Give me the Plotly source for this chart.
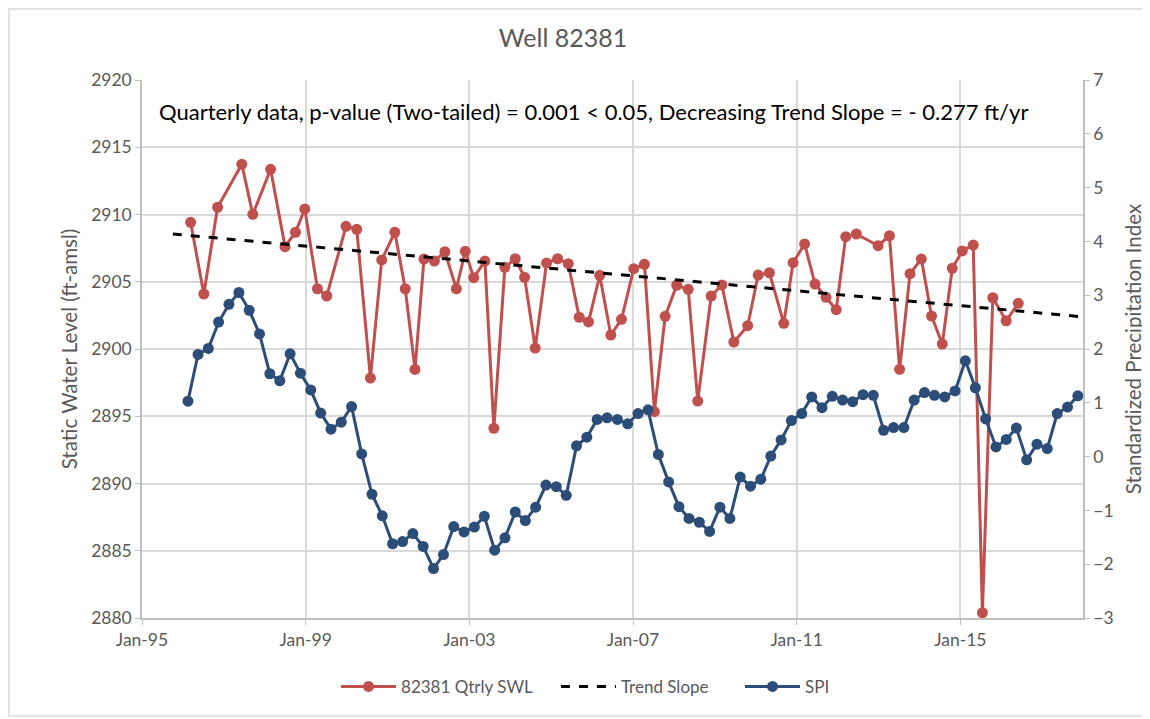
import pandas as pd
import plotly.graph_objects as go

# ---- data ----
swl_dates = [
    "1996-03-10", "1996-07-06", "1996-11-06", "1997-06-10", "1997-09-16", "1998-02-22",
    "1998-07-01", "1998-10-02", "1998-12-24", "1999-04-16", "1999-07-08", "1999-12-27",
    "2000-04-01", "2000-08-01", "2000-11-10", "2001-03-07", "2001-06-08", "2001-09-03",
    "2001-11-22", "2002-02-23", "2002-05-28", "2002-09-07", "2002-11-26", "2003-02-09",
    "2003-05-20", "2003-08-08", "2003-11-14", "2004-02-15", "2004-05-08", "2004-08-11",
    "2004-11-20", "2005-02-27", "2005-06-02", "2005-09-08", "2005-11-30", "2006-03-10",
    "2006-06-17", "2006-09-20", "2007-01-08", "2007-04-13", "2007-07-11", "2007-10-15",
    "2008-01-26", "2008-05-08", "2008-08-01", "2008-11-29", "2009-03-04", "2009-06-19",
    "2009-10-21", "2010-01-22", "2010-05-03", "2010-09-08", "2010-11-30", "2011-03-13",
    "2011-06-14", "2011-09-20", "2011-12-20", "2012-03-14", "2012-06-17", "2012-12-28",
    "2013-04-08", "2013-07-08", "2013-10-09", "2014-01-18", "2014-04-19", "2014-07-24",
    "2014-10-21", "2015-01-18", "2015-04-26", "2015-07-17", "2015-10-18", "2016-02-14",
    "2016-06-01",
]
swl_values = [
    2909.42, 2904.09, 2910.54, 2913.73, 2910.01, 2913.36, 2907.61, 2908.68, 2910.41,
    2904.48, 2903.94, 2909.12, 2908.90, 2897.84, 2906.62, 2908.68, 2904.48, 2898.48,
    2906.69, 2906.54, 2907.23, 2904.48, 2907.26, 2905.30, 2906.54, 2894.10, 2906.07,
    2906.71, 2905.33, 2900.07, 2906.39, 2906.71, 2906.34, 2902.36, 2902.01, 2905.48,
    2901.04, 2902.21, 2905.97, 2906.30, 2895.34, 2902.43, 2904.74, 2904.44, 2896.13,
    2903.94, 2904.76, 2900.52, 2901.73, 2905.50, 2905.67, 2901.91, 2906.42, 2907.81,
    2904.83, 2903.84, 2902.92, 2908.35, 2908.55, 2907.68, 2908.42, 2898.49, 2905.60,
    2906.69, 2902.45, 2900.37, 2906.00, 2907.29, 2907.73, 2880.39, 2903.81, 2902.10,
    2903.40,
]

trend_dates = ["1995-10-03", "2017-12-31"]
trend_values = [2908.55, 2902.39]

spi_values = [
    1.03, 1.90, 2.01, 2.50, 2.83, 3.05, 2.72, 2.28, 1.54, 1.41, 1.91, 1.55,
    1.24, 0.81, 0.51, 0.64, 0.93, 0.05, -0.70, -1.10, -1.62, -1.58, -1.43, -1.67,
    -2.08, -1.82, -1.30, -1.40, -1.31, -1.11, -1.74, -1.51, -1.03, -1.19, -0.94, -0.53,
    -0.56, -0.72, 0.20, 0.36, 0.69, 0.72, 0.69, 0.61, 0.80, 0.87, 0.04, -0.47,
    -0.93, -1.15, -1.22, -1.39, -0.94, -1.15, -0.38, -0.55, -0.42, 0.01, 0.31, 0.67,
    0.80, 1.11, 0.91, 1.12, 1.05, 1.02, 1.15, 1.14, 0.49, 0.54, 0.54, 1.05,
    1.19, 1.14, 1.11, 1.22, 1.78, 1.28, 0.70, 0.18, 0.32, 0.53, -0.06, 0.23,
    0.15, 0.80, 0.92, 1.13,
]
spi_dates = pd.date_range("1996-02-01", periods=len(spi_values), freq="3MS") + pd.Timedelta(days=14)

title_text = "Well 82381"
note_text = "Quarterly data, p-value (Two-tailed) = 0.001 < 0.05, Decreasing Trend Slope = - 0.277 ft/yr"

# ---- styles ----
RED = "#C0504D"
BLUE = "#2C4D78"
GRID = "#D9D9D9"
AXIS = "#BFBFBF"
TXT = "#595959"
FONT = "Lato, Open Sans, sans-serif"

fig = go.Figure()
fig.add_trace(go.Scatter(
    x=swl_dates, y=swl_values, name="82381 Qtrly SWL", mode="lines+markers",
    line=dict(color=RED, width=3), marker=dict(color=RED, size=11), legend="legend",
))
fig.add_trace(go.Scatter(
    x=trend_dates, y=trend_values, name="Trend Slope", mode="lines",
    line=dict(color="black", width=3, dash="dash"), legend="legend2",
))
fig.add_trace(go.Scatter(
    x=spi_dates, y=spi_values, name="SPI", mode="lines+markers", yaxis="y2",
    line=dict(color=BLUE, width=3), marker=dict(color=BLUE, size=11), legend="legend3",
))

leg_common = dict(orientation="h", xanchor="left", y=-0.128, yanchor="middle",
                  font=dict(size=17, color=TXT), itemwidth=55, bgcolor="rgba(0,0,0,0)")

fig.update_layout(
    width=1142, height=711,
    margin=dict(l=134, r=67, t=72, b=101, autoexpand=False),
    paper_bgcolor="white", plot_bgcolor="white",
    font=dict(family=FONT, color=TXT, size=17),
    title=dict(text=title_text, x=0.486, xanchor="center", y=0.958, yanchor="middle",
               yref="container", font=dict(size=25, color=TXT, family=FONT)),
    xaxis=dict(
        type="date", range=["1995-01-01", "2017-12-31"],
        tick0="1995-01-01", dtick="M48", tickformat="%b-%y",
        showgrid=True, gridcolor=GRID, gridwidth=1.5,
        showline=True, linecolor=AXIS, linewidth=1.5,
        ticks="outside", tickcolor=AXIS, ticklen=5,
        tickfont=dict(size=17.5, color=TXT), zeroline=False,
    ),
    yaxis=dict(
        range=[2880, 2920], dtick=5, tick0=2880,
        showgrid=True, gridcolor=GRID, gridwidth=1.5,
        showline=True, linecolor=AXIS, linewidth=1.5,
        ticks="outside", tickcolor=AXIS, ticklen=5,
        tickfont=dict(size=17.5, color=TXT), zeroline=False,
        title=dict(text="Static Water Level (ft-amsl)", font=dict(size=20.5, color=TXT), standoff=8),
    ),
    yaxis2=dict(
        overlaying="y", side="right", range=[-3, 7], dtick=1, tick0=-3,
        showgrid=False, showline=True, linecolor=AXIS, linewidth=1.5,
        ticks="outside", tickcolor=AXIS, ticklen=5,
        tickfont=dict(size=17.5, color=TXT), zeroline=False,
        title=dict(text="Standardized Precipitation Index", font=dict(size=20.5, color=TXT), standoff=14),
    ),
    legend=dict(x=0.2062, **leg_common),
    legend2=dict(x=0.4399, **leg_common),
    legend3=dict(x=0.6355, **leg_common),
    showlegend=True,
)

fig.add_annotation(
    text=note_text, xref="paper", yref="paper", x=0.016, y=0.942,
    xanchor="left", yanchor="middle", showarrow=False,
    font=dict(size=22, color="black", family=FONT),
)

fig.add_shape(type="rect", xref="paper", yref="paper",
              x0=-0.1413, x1=1.068, y0=-0.182, y1=1.132,
              line=dict(color=GRID, width=1.5), fillcolor="rgba(0,0,0,0)", layer="below")

fig.write_html("out.html")
